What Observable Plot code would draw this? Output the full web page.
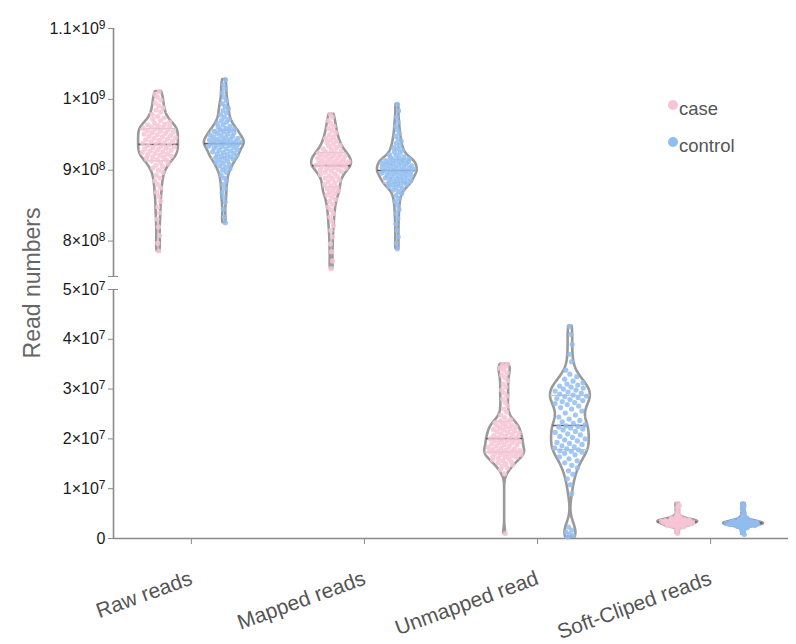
<!DOCTYPE html>
<html><head><meta charset="utf-8">
<script src="https://cdn.jsdelivr.net/npm/d3@7"></script>
<script src="https://cdn.jsdelivr.net/npm/@observablehq/plot@0.6"></script>
<style>
body{margin:0;background:#fff;font-family:"Liberation Sans",Arial,sans-serif;}
#chart{position:relative;width:796px;height:644px;overflow:hidden;}
#chart svg{display:block;}
.ylab{position:absolute;left:32px;top:283px;transform:translate(-50%,-50%) rotate(-90deg);font-size:23px;color:#666;white-space:nowrap;}
.ldot{position:absolute;width:10px;height:10px;border-radius:50%;}
.ltxt{position:absolute;font-size:18.5px;line-height:22px;color:#555;}
</style></head>
<body>
<div id="chart"></div>
<script>
// ---- data (values in millions of reads) ----
const categories = ["Raw reads", "Mapped reads", "Unmapped read", "Soft-Cliped reads"];
const groups = ["case", "control"];
const groupColors = ["#F7C4D5", "#90BDF0"];
const topTicks = [8e8, 9e8, 1e9, 1.1e9];
const bottomTicks = [0, 1e7, 2e7, 3e7, 4e7, 5e7];

const rawCase = [786,797,808,820,831,840,848,856,863,869,875,880,885,889,893,897,900,903,905,907,909,911,
913,914,915,917,918,919,920,921,922,923,924,925,926,927,928,929,930,931,932,933,934,935,936,
937,938,939,940,941,942,943,944,945,946,947,948,949,950,951,952,953,954,955,956,957,958,
959,960,961,962,963,964,965,966,968,970,972,974,976,979,982,985,988,991,995,999,1003,1007,1011];
const rawControl = [826,834,845,855,862,868,874,880,885,889,893,897,900,902,904,906,908,910,911,913,914,916,
917,918,919,920,921,922,923,924,925,926,927,928,929,930,931,932,933,934,935,935,936,937,937,
938,939,939,940,941,941,942,943,944,944,945,946,947,948,949,950,951,952,953,954,955,956,
957,958,959,961,962,964,966,968,970,972,975,978,981,984,987,990,994,998,1003,1009,1015,1021,1028];
const mappedCase = [761,772,785,796,806,815,822,828,834,839,844,848,852,856,859,862,865,867,869,871,873,874,
876,878,880,882,884,886,888,889,891,892,894,895,897,898,899,900,901,902,903,904,905,906,906,
907,908,908,909,910,910,911,912,912,913,914,915,916,917,918,919,920,920,921,922,923,924,
925,926,927,929,930,932,934,935,937,939,941,943,945,947,950,953,956,959,962,966,970,975,979];
const mappedControl = [789,797,806,815,824,832,839,845,851,856,860,864,867,870,872,874,876,877,878,879,880,881,
882,883,884,885,886,887,887,888,889,890,891,892,892,893,894,895,896,896,897,898,898,899,899,
900,901,901,902,903,903,904,905,906,906,907,908,909,909,910,911,911,912,913,913,914,915,
916,917,918,919,921,922,924,926,928,930,932,935,938,941,944,948,952,957,962,968,975,984,993];
const unmappedCase = [1.0,13.0,13.8,14.2,14.5,14.8,15.0,15.2,15.4,15.6,15.8,16.0,16.1,16.3,16.4,16.5,16.6,16.8,16.9,17.0,17.1,17.2,
17.3,17.4,17.5,17.6,17.7,17.8,17.9,18.0,18.2,18.3,18.5,18.6,18.8,18.9,19.0,19.2,19.3,19.5,19.6,19.7,19.8,19.9,20.0,
20.1,20.3,20.4,20.6,20.7,20.9,21.0,21.2,21.3,21.5,21.6,21.8,21.9,22.1,22.2,22.4,22.5,22.7,22.8,23.0,23.2,23.4,
23.6,23.9,24.3,24.8,25.4,26.0,26.6,27.3,28.0,28.6,29.2,29.8,30.4,31.0,31.7,32.3,32.8,33.3,33.8,34.2,34.6,34.8,35.0];
const unmappedControl = [0.3,0.6,0.9,1.3,1.7,2.3,
9.0,10.8,12.0,12.9,13.6,14.2,14.7,15.2,15.6,16.0,16.4,16.8,17.1,17.3,17.5,17.6,
17.8,18.0,18.2,18.4,18.6,18.9,19.1,19.3,19.6,19.8,20.0,20.3,20.5,20.8,21.0,21.3,21.5,21.8,22.0,22.2,22.4,22.5,22.6,
22.8,23.1,23.4,23.7,24.0,24.4,24.8,25.2,25.6,26.0,26.3,26.6,26.9,27.1,27.3,27.5,27.7,27.9,28.1,28.3,28.5,28.6,
28.8,29.0,29.2,29.4,29.6,29.8,30.0,30.2,30.4,30.6,30.8,31.0,31.3,31.6,32.0,32.5,33.0,33.8,35.5,37.0,39.0,41.0,42.6];
const softCase = [1.0,1.5,1.9,2.2,2.3,2.4,2.5,2.5,2.6,2.6,2.7,2.7,2.8,2.8,2.9,2.9,3.0,3.0,3.0,3.1,3.1,3.2,3.2,3.2,
3.3,3.3,3.3,3.4,3.4,3.4,3.5,3.5,3.5,3.6,3.6,3.6,3.7,3.7,3.8,3.8,3.9,3.9,4.0,4.1,4.2,4.3,4.5,4.8,5.2,5.7,6.2,6.6,7.0];
const softControl = [0.8,1.2,1.6,1.9,2.1,2.2,2.3,2.4,2.5,2.5,2.6,2.6,2.7,2.7,2.7,2.8,2.8,2.8,2.9,2.9,2.9,3.0,3.0,3.0,3.0,
3.1,3.1,3.1,3.2,3.2,3.2,3.3,3.3,3.3,3.4,3.4,3.5,3.5,3.6,3.6,3.7,3.8,3.9,4.0,4.2,4.4,4.7,5.1,5.6,6.1,6.6,7.0];

const seriesDefs = [
  {cat: 0, g: 0, values: rawCase, panel: "top"},
  {cat: 0, g: 1, values: rawControl, panel: "top"},
  {cat: 1, g: 0, values: mappedCase, panel: "top"},
  {cat: 1, g: 1, values: mappedControl, panel: "top"},
  {cat: 2, g: 0, values: unmappedCase, panel: "bottom"},
  {cat: 2, g: 1, values: unmappedControl, panel: "bottom"},
  {cat: 3, g: 0, values: softCase, panel: "bottom"},
  {cat: 3, g: 1, values: softControl, panel: "bottom"}
];

// ---- layout helpers ----
const XDOM = [-0.45, 3.45];
const OFF = 0.19;      // group offset in category units
const W = 0.115;       // max violin half-width in category units
const ADJ = 0.6;       // bandwidth adjust

function bwNrd0(v) {
  const sd = d3.deviation(v);
  const s = v.slice().sort(d3.ascending);
  const iqr = d3.quantileSorted(s, 0.75) - d3.quantileSorted(s, 0.25);
  const lo = Math.min(sd, iqr / 1.34) || sd || 1;
  return 0.9 * lo * Math.pow(v.length, -0.2);
}
function dens(v, bw, y) {
  let t = 0;
  for (const x of v) { const z = (y - x) / bw; t += Math.exp(-0.5 * z * z); }
  return t;
}

const series = seriesDefs.map((s, si) => {
  const v = s.values.slice().sort(d3.ascending);
  const bw = bwNrd0(v) * ADJ;
  const lo = v[0], hi = v[v.length - 1];
  const N = 300;
  const ys = d3.range(N + 1).map(i => lo + (hi - lo) * i / N);
  const ds = ys.map(y => dens(v, bw, y));
  const dmax = d3.max(ds);
  const c = s.cat + (s.g === 0 ? -OFF : OFF);
  const hw = y => dens(v, bw, y) / dmax * W;
  const outline = ys.map((y, i) => ({key: si, y: y * 1e6, x1: c - ds[i] / dmax * W, x2: c + ds[i] / dmax * W}));
  const quart = [0.25, 0.5, 0.75].map(p => {
    const q = d3.quantileSorted(v, p);
    const w = hw(q);
    return {y: q * 1e6, x1: c - w, x2: c + w, median: p === 0.5};
  });
  const points = v.map((y, i) => {
    const u = ((i + 1) * 0.6180339887 + si * 0.31) % 1;
    return {g: s.g, y: y * 1e6, x: c + (2 * u - 1) * hw(y) * 0.88};
  });
  return {...s, outline, quart, points};
});

function sci(v) {
  if (v === 0) return "0";
  const e = Math.floor(Math.log10(v) + 1e-9);
  const m = +(v / Math.pow(10, e)).toFixed(2);
  return m + "×10^" + e;
}
// turn "m×10^e" into text with a real superscript tspan
function superscripts(svg) {
  const ns = "http://www.w3.org/2000/svg";
  for (const t of svg.querySelectorAll("text")) {
    const s = t.textContent;
    const m = s.match(/^(.*×10)\^(\d+)$/);
    if (!m) continue;
    t.textContent = m[1];
    const ts = document.createElementNS(ns, "tspan");
    ts.setAttribute("dy", "-0.42em");
    ts.setAttribute("font-size", "12");
    ts.textContent = m[2];
    t.appendChild(ts);
  }
}

function panelMarks(panel) {
  const S = series.filter(s => s.panel === panel);
  const outlines = S.flatMap(s => s.outline);
  const qs = S.flatMap(s => s.quart);
  const pts = S.flatMap(s => s.points);
  return [
    Plot.areaX(outlines, {y: "y", x1: "x1", x2: "x2", z: "key", fill: "white", stroke: "#9a9a9a", strokeWidth: 2.6, strokeLinejoin: "round"}),
    Plot.ruleY(qs.filter(d => !d.median), {y: "y", x1: "x1", x2: "x2", stroke: "#c8c8c8", strokeWidth: 1.2}),
    Plot.ruleY(qs.filter(d => d.median), {y: "y", x1: "x1", x2: "x2", stroke: "#5e5e5e", strokeWidth: 1.6}),
    Plot.dot(pts.filter(d => d.g === 0), {x: "x", y: "y", r: 2.6, fill: groupColors[0], fillOpacity: 0.85}),
    Plot.dot(pts.filter(d => d.g === 1), {x: "x", y: "y", r: 2.6, fill: groupColors[1], fillOpacity: 0.85})
  ];
}

const style = {fontFamily: "'Liberation Sans', Arial, sans-serif", background: "white", overflow: "visible"};

const topPlot = Plot.plot({
  width: 796, height: 276, marginTop: 28, marginBottom: 0, marginLeft: 113, marginRight: 8,
  style,
  x: {domain: XDOM, axis: null},
  y: {domain: [7.5e8, 1.1e9]},
  marks: [
    Plot.ruleX([XDOM[0]], {stroke: "#8a8a8a", strokeWidth: 1.6}),
    Plot.axisY({ticks: topTicks, tickFormat: sci, tickSize: 5, tickPadding: 3, stroke: "#8a8a8a", fill: "#1a1a1a", fontSize: 16, label: null}),
    Plot.axisY({ticks: [7.5e8], tickFormat: () => "", tickSize: 10, dx: 5, stroke: "#8a8a8a", label: null}),
    ...panelMarks("top")
  ]
});

const bottomPlot = Plot.plot({
  width: 796, height: 368, marginTop: 13, marginBottom: 106, marginLeft: 113, marginRight: 8,
  style,
  x: {domain: XDOM},
  y: {domain: [0, 5e7]},
  marks: [
    Plot.ruleX([XDOM[0]], {stroke: "#8a8a8a", strokeWidth: 1.6}),
    Plot.ruleY([0], {stroke: "#8a8a8a", strokeWidth: 1.6}),
    Plot.axisY({ticks: bottomTicks, tickFormat: sci, tickSize: 5, tickPadding: 3, stroke: "#8a8a8a", fill: "#1a1a1a", fontSize: 16, label: null}),
    Plot.axisY({ticks: [5e7], tickFormat: () => "", tickSize: 10, dx: 5, stroke: "#8a8a8a", label: null}),
    Plot.axisX({ticks: d3.range(categories.length), tickFormat: i => categories[i], tickRotate: -20, tickSize: 6, tickPadding: 33, stroke: "#8a8a8a", fill: "#555", fontSize: 21, label: null}),
    ...panelMarks("bottom")
  ]
});

superscripts(topPlot);
superscripts(bottomPlot);

const chart = document.getElementById("chart");
chart.appendChild(topPlot);
chart.appendChild(bottomPlot);

const ylab = document.createElement("div");
ylab.className = "ylab";
ylab.textContent = "Read numbers";
chart.appendChild(ylab);

groups.forEach((g, i) => {
  const dot = document.createElement("div");
  dot.className = "ldot";
  dot.style.background = groupColors[i];
  dot.style.left = "668px";
  dot.style.top = (100 + i * 37) + "px";
  chart.appendChild(dot);
  const t = document.createElement("div");
  t.className = "ltxt";
  t.textContent = g;
  t.style.left = "679px";
  t.style.top = (98 + i * 37) + "px";
  chart.appendChild(t);
});
</script>
</body></html>
